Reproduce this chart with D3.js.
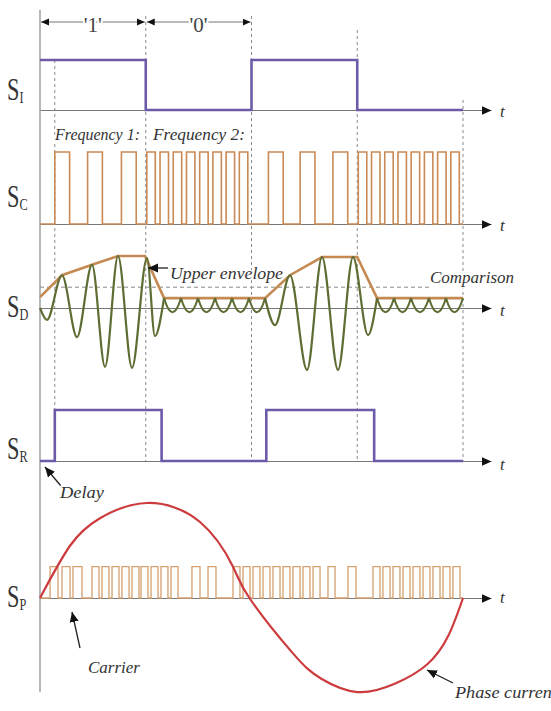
<!DOCTYPE html>
<html>
<head>
<meta charset="utf-8">
<script src="https://cdn.jsdelivr.net/npm/d3@7"></script>
<style>
  body { margin: 0; background: #fff; }
  text { font-family: "Liberation Serif", "Times New Roman", "DejaVu Serif", serif; fill: #333; }
</style>
</head>
<body>
<div id="chart"></div>
<script>
// time axis: 4 bit periods, 10 units each
var bitEdges = [0, 10, 20];
var bitLabels = ["'1'", "'0'"];
var dashTimes = [1.4, 10, 20, 30, 40];

// S_I : input bits
var siLevels = [[0, 1], [10, 0], [20, 1], [30, 0], [40, 0]];

// S_C : carrier, frequency 1 for '1', frequency 2 for '0'
var scPulses = [
  [1.4, 2.8], [4.5, 5.9], [7.7, 9.1],
  [10.1, 10.9], [11.35, 12.15], [12.6, 13.4], [13.85, 14.65], [15.1, 15.9], [16.35, 17.15], [17.6, 18.4], [18.85, 19.65],
  [21.6, 23.0], [24.6, 26.0], [27.7, 29.1],
  [30.1, 30.9], [31.35, 32.15], [32.6, 33.4], [33.85, 34.65], [35.1, 35.9], [36.35, 37.15], [37.6, 38.4], [38.85, 39.65]
];

// S_D : detected resonance, extrema of the two bursts
var sdBurst1 = [[0, 0], [0.66, -0.23], [2.08, 0.63], [3.5, -0.56], [4.92, 0.83], [6.15, -1.13], [7.38, 1.0],
  [8.7, -1.15], [10.12, 0.96], [10.87, -0.54], [11.73, 0.19]];
var sdBurst2 = [[21.28, 0.19], [22.22, -0.33], [23.64, 0.63], [25.25, -1.19], [26.67, 0.98], [28.18, -1.19],
  [29.6, 0.98], [31.02, -0.52], [31.87, 0.19]];
var rippleCusps1 = [11.73, 13.33, 14.94, 16.55, 18.16, 19.76, 21.28];
var rippleCusps2 = [31.87, 33.48, 35.08, 36.78, 38.39, 40.0];
var rippleTop = 0.19, rippleBottom = -0.08;
var envelope = [[0, 0.21], [2.08, 0.63], [4.92, 0.83], [7.38, 1.0], [9.93, 1.0], [11.73, 0.19], [21.28, 0.19],
  [23.64, 0.63], [26.67, 0.98], [30, 0.98], [31.87, 0.19], [40, 0.19]];
var comparison = 0.40;

// S_R : recovered bits (delayed)
var srLevels = [[0, 0], [1.4, 1], [11.5, 0], [21.4, 1], [31.6, 0], [40, 0]];

// S_P : phase current and PWM carrier
var phaseCurrent = [[0, 0], [2.84, 0.55], [5.67, 0.84], [10.12, 1.0], [15.13, 0.8], [18.25, 0.33], [19.8, 0],
  [23.9, -0.58], [26.6, -0.85], [30, -0.99], [33.6, -0.9], [36.6, -0.7], [38.6, -0.4], [40, 0]];
var spPulses = [
  [0.95, 1.7], [2.08, 2.84], [3.12, 3.97],
  [4.92, 5.58], [5.86, 6.52], [6.81, 7.47], [7.75, 8.42], [8.7, 9.36], [9.55, 10.21], [10.5, 11.16], [11.44, 12.1], [12.39, 13.05],
  [14.37, 15.13], [15.89, 16.64],
  [18.25, 18.91], [19.2, 19.86], [20.14, 20.8], [21.09, 21.75], [22.03, 22.7], [22.98, 23.64], [23.92, 24.59], [24.87, 25.53], [25.82, 26.48],
  [27.23, 27.9], [29.12, 29.88],
  [31.49, 32.15], [32.43, 33.1], [33.38, 34.04], [34.33, 34.99], [35.27, 35.93], [36.22, 36.88], [37.16, 37.83], [38.11, 38.77], [39.05, 39.72]
];

var signalNames = ["I", "C", "D", "R", "P"];

var svg = d3.select("#chart").append("svg")
  .attr("width", 551)
  .attr("height", 711);

var x = d3.scaleLinear().domain([0, 40]).range([40, 463]);
var xAxis = d3.scaleLinear().domain([0, 42.6]).range([40, 491]);

var yI = d3.scaleLinear().domain([0, 1]).range([110, 60]);
var yC = d3.scaleLinear().domain([0, 1]).range([224, 152]);
var yD = d3.scaleLinear().domain([-1, 1]).range([360, 256]);
var yR = d3.scaleLinear().domain([0, 1]).range([461, 410]);
var yP = d3.scaleLinear().domain([-1, 1]).range([693, 503]);

var defs = svg.append("defs");
defs.append("marker")
    .attr("id", "arr")
    .attr("viewBox", "0 0 10 10")
    .attr("refX", 10).attr("refY", 5)
    .attr("markerWidth", 10).attr("markerHeight", 10)
    .attr("markerUnits", "userSpaceOnUse")
    .attr("orient", "auto-start-reverse")
  .append("path")
    .attr("d", "M0,0.5L10,5L0,9.5Z")
    .attr("fill", "#111");
defs.append("marker")
    .attr("id", "arrS")
    .attr("viewBox", "0 0 10 10")
    .attr("refX", 10).attr("refY", 5)
    .attr("markerWidth", 8).attr("markerHeight", 8)
    .attr("markerUnits", "userSpaceOnUse")
    .attr("orient", "auto-start-reverse")
  .append("path")
    .attr("d", "M0,0.5L10,5L0,9.5Z")
    .attr("fill", "#111");

// vertical axis
svg.append("line")
  .attr("x1", x(0)).attr("x2", x(0))
  .attr("y1", 10).attr("y2", 692)
  .attr("stroke", "#888").attr("stroke-width", 1.2);

// dashed time markers
var dashTop = [yI(1), 16, 16, 30, 100];
svg.selectAll(".vdash")
  .data(dashTimes)
  .enter()
  .append("line")
    .attr("x1", function(d) { return x(d); })
    .attr("x2", function(d) { return x(d); })
    .attr("y1", function(d, i) { return dashTop[i]; })
    .attr("y2", yR(0))
    .attr("stroke", "#8a8a8a")
    .attr("stroke-width", 1)
    .attr("stroke-dasharray", "3,3");

// bit period arrows
svg.selectAll(".bitarrow")
  .data(bitLabels)
  .enter()
  .append("line")
    .attr("x1", function(d, i) { return x(bitEdges[i]) + 1; })
    .attr("x2", function(d, i) { return x(bitEdges[i + 1]) - 1; })
    .attr("y1", 22).attr("y2", 22)
    .attr("stroke", "#777").attr("stroke-width", 1)
    .attr("marker-start", "url(#arrS)")
    .attr("marker-end", "url(#arrS)");
svg.selectAll(".bitlabel")
  .data(bitLabels)
  .enter()
  .append("text")
    .attr("x", function(d, i) { return x((bitEdges[i] + bitEdges[i + 1]) / 2); })
    .attr("y", 32)
    .attr("text-anchor", "middle")
    .attr("font-size", 21)
    .style("fill", "#444")
    .attr("stroke", "#fff").attr("stroke-width", 4).attr("paint-order", "stroke")
    .text(function(d) { return d; });

// baselines with arrows
function baseAxis(yPos, tY) {
  var g = svg.append("g")
    .attr("transform", "translate(0," + yPos + ")")
    .call(d3.axisBottom(xAxis).tickValues([]).tickSizeOuter(0));
  g.select(".domain")
    .attr("stroke", "#777")
    .attr("stroke-width", 1.2)
    .attr("marker-end", "url(#arr)");
  svg.append("text")
    .attr("x", 500).attr("y", tY)
    .attr("font-size", 17)
    .attr("font-style", "italic")
    .text("t");
}
baseAxis(yI(0), 117);
baseAxis(yC(0), 231);
baseAxis(yD(0), 316);
baseAxis(yR(0), 470);
baseAxis(yP(0), 603);

// comparison level
svg.append("line")
  .attr("x1", x(0)).attr("x2", x(36.8))
  .attr("y1", yD(comparison)).attr("y2", yD(comparison))
  .attr("stroke", "#888").attr("stroke-width", 1)
  .attr("stroke-dasharray", "4,3");

function pulsePoints(pulses) {
  var pts = [[0, 0]];
  pulses.forEach(function(p) { pts.push([p[0], 1], [p[1], 0]); });
  pts.push([40, 0]);
  return pts;
}

function stepLine(yScale) {
  return d3.line()
    .x(function(d) { return x(d[0]); })
    .y(function(d) { return yScale(d[1]); })
    .curve(d3.curveStepAfter);
}

// S_I
svg.append("path")
  .datum(siLevels)
  .attr("d", stepLine(yI))
  .attr("fill", "none").attr("stroke", "#6d5aa8").attr("stroke-width", 2.6);

// S_C
svg.append("path")
  .datum(pulsePoints(scPulses))
  .attr("d", stepLine(yC))
  .attr("fill", "none").attr("stroke", "#c98a55").attr("stroke-width", 1.6);

// S_D envelope
svg.append("path")
  .datum(envelope)
  .attr("d", d3.line()
    .x(function(d) { return x(d[0]); })
    .y(function(d) { return yD(d[1]); }))
  .attr("fill", "none").attr("stroke", "#c48a52").attr("stroke-width", 2.6);

// S_D oscillation
var wave = d3.line()
  .x(function(d) { return x(d[0]); })
  .y(function(d) { return yD(d[1]); })
  .curve(d3.curveMonotoneX);
[sdBurst1, sdBurst2].forEach(function(b) {
  svg.append("path")
    .datum(b)
    .attr("d", wave)
    .attr("fill", "none").attr("stroke", "#5e6d33").attr("stroke-width", 2.2);
});

function ripplePath(cusps) {
  var p = d3.path();
  var top = yD(rippleTop), bot = yD(rippleBottom);
  for (var i = 0; i < cusps.length - 1; i++) {
    var a = x(cusps[i]), b = x(cusps[i + 1]);
    p.moveTo(a, top);
    p.quadraticCurveTo((a + b) / 2, 2 * bot - top, b, top);
  }
  return p.toString();
}
[rippleCusps1, rippleCusps2].forEach(function(c) {
  svg.append("path")
    .attr("d", ripplePath(c))
    .attr("fill", "none").attr("stroke", "#5e6d33").attr("stroke-width", 2);
});

// S_R
svg.append("path")
  .datum(srLevels)
  .attr("d", stepLine(yR))
  .attr("fill", "none").attr("stroke", "#6d5aa8").attr("stroke-width", 2.6);

// S_P carrier
svg.append("path")
  .datum(pulsePoints(spPulses))
  .attr("d", d3.line()
    .x(function(d) { return x(d[0]); })
    .y(function(d) { return yP(d[1] * 0.33); })
    .curve(d3.curveStepAfter))
  .attr("fill", "none").attr("stroke", "#d4a070").attr("stroke-width", 1.3);

// S_P phase current
svg.append("path")
  .datum(phaseCurrent)
  .attr("d", d3.line()
    .x(function(d) { return x(d[0]); })
    .y(function(d) { return yP(d[1]); })
    .curve(d3.curveNatural))
  .attr("fill", "none").attr("stroke", "#cc3b3e").attr("stroke-width", 2.2);

// signal names
var nameBase = [100, 207, 317, 459, 607];
signalNames.forEach(function(n, i) {
  var t = svg.append("text")
    .attr("transform", "translate(7," + nameBase[i] + ") scale(0.72,1)")
    .attr("font-size", 31);
  t.append("tspan").text("S");
  t.append("tspan").attr("font-size", 17).attr("dy", 3).text(n);
});

// annotations
function note(txt, x0, y0, len, size) {
  svg.append("text")
    .attr("x", x0).attr("y", y0)
    .attr("font-size", size)
    .attr("font-style", "italic")
    .attr("textLength", len)
    .attr("lengthAdjust", "spacingAndGlyphs")
    .attr("stroke", "#fff").attr("stroke-width", 3).attr("paint-order", "stroke")
    .text(txt);
}
function pointer(x1, y1, x2, y2) {
  svg.append("line")
    .attr("x1", x1).attr("y1", y1).attr("x2", x2).attr("y2", y2)
    .attr("stroke", "#222").attr("stroke-width", 1.3)
    .attr("marker-end", "url(#arr)");
}
note("Frequency 1:", 55, 140, 85, 17);
note("Frequency 2:", 153, 140, 92, 17);
pointer(168, 268, 148, 268);
note("Upper envelope", 170, 279, 113, 16);
note("Comparison", 430, 283, 84, 16);
pointer(61, 486, 45, 467);
note("Delay", 60, 498, 44, 16);
pointer(80, 648, 72, 612);
note("Carrier", 88, 673, 52, 16);
pointer(453, 683, 427, 670);
note("Phase current", 455, 698, 102, 17);
</script>
</body>
</html>
